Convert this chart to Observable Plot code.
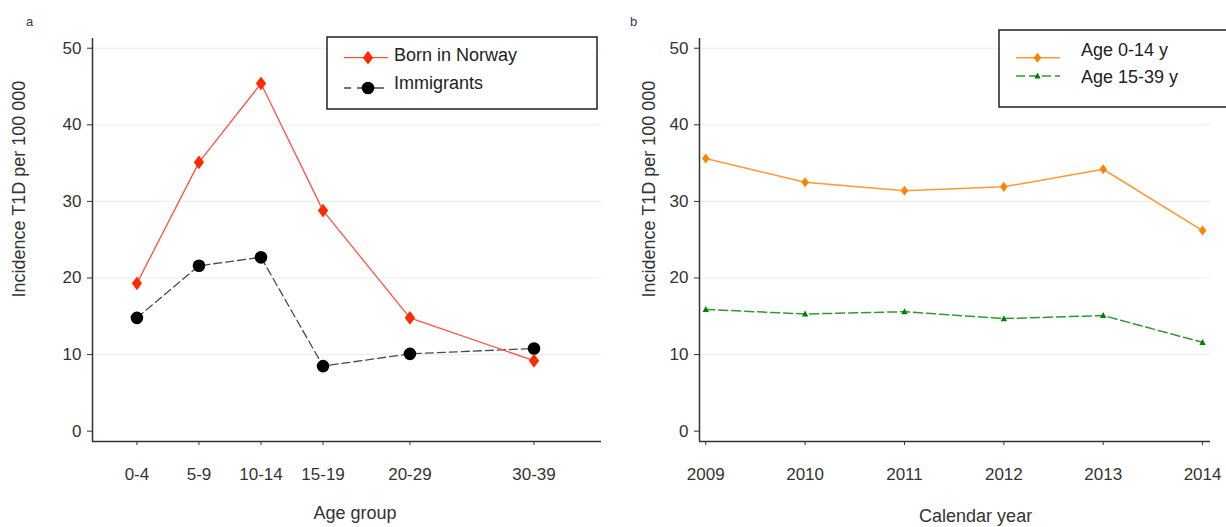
<!DOCTYPE html>
<html><head><meta charset="utf-8">
<script src="https://cdn.jsdelivr.net/npm/d3@7"></script>
<script src="https://cdn.jsdelivr.net/npm/@observablehq/plot@0.6"></script>
<style>
body{margin:0;background:#fff;}
#wrap{display:flex;width:1226px;height:527px;overflow:hidden;}
#wrap svg{flex:none;}
</style></head><body><div id="wrap"></div>
<script>
// ---- data ----
const ageGroups = ["0-4", "5-9", "10-14", "15-19", "20-29", "30-39"];
const ageMid = [2, 7, 12, 17, 24, 34];
const bornNorway = [19.3, 35.1, 45.4, 28.8, 14.8, 9.2];
const immigrants = [14.8, 21.6, 22.7, 8.5, 10.1, 10.8];
const years = [2009, 2010, 2011, 2012, 2013, 2014];
const age0to14 = [35.6, 32.5, 31.4, 31.9, 34.2, 26.2];
const age15to39 = [15.9, 15.3, 15.6, 14.7, 15.1, 11.6];
const yTicks = [0, 10, 20, 30, 40, 50];
const seriesA = ["Born in Norway", "Immigrants"];
const seriesB = ["Age 0-14 y", "Age 15-39 y"];
const yTitle = "Incidence T1D per 100 000";
const xTitleA = "Age group";
const xTitleB = "Calendar year";

// ---- styling ----
const FONT = "'Liberation Sans', Arial, sans-serif";
const C = {red: "#ff2a00", redLine: "#ff5247", black: "#000", grayLine: "#4a4a4a",
           orange: "#ff8200", orangeLine: "#ff9933", green: "#008000", greenLine: "#2f9a2f",
           axis: "#333", grid: "#e8f0f0", text: "#333", letter: "#2b3d6b"};

const tallDiamond = {draw(ctx, size) {
  const r = Math.sqrt(size / Math.PI), h = r * 1.15, w = r * 0.85;
  ctx.moveTo(0, -h); ctx.lineTo(w, 0); ctx.lineTo(0, h); ctx.lineTo(-w, 0); ctx.closePath();
}};
const upTriangle = {draw(ctx, size) {
  const r = Math.sqrt(size / Math.PI);
  ctx.moveTo(0, -r * 1.15); ctx.lineTo(r * 1.05, r * 0.85); ctx.lineTo(-r * 1.05, r * 0.85); ctx.closePath();
}};

const yDom = [-1.345, 51.27];
const xDomA = [-1.58, 39.44];
const xDomB = [2008.937, 2014.08];

function frameMarks(xDom, ticksX, fmt) {
  return [
    Plot.gridY(yTicks.slice(1), {stroke: C.grid, strokeOpacity: 1, strokeWidth: 1.2}),
    Plot.ruleX([xDom[0]], {stroke: C.axis, strokeWidth: 1.5}),
    Plot.ruleY([yDom[0]], {stroke: C.axis, strokeWidth: 1.5}),
    Plot.axisY(yTicks, {tickSize: 5, tickPadding: 6, label: null, fontSize: 17, stroke: C.axis}),
    Plot.axisX(ticksX, {tickSize: 4, tickPadding: 22, label: null, fontSize: 17, stroke: C.axis, tickFormat: fmt})
  ];
}

// ---- panel a ----
const dataA = ageMid.map((x, i) => ({x, born: bornNorway[i], imm: immigrants[i]}));
const plotA = Plot.plot({
  width: 613, height: 527,
  marginLeft: 92, marginRight: 12, marginTop: 38, marginBottom: 86,
  style: {fontFamily: FONT, color: C.text, background: "#fff", overflow: "visible"},
  x: {domain: xDomA},
  y: {domain: yDom},
  marks: [
    ...frameMarks(xDomA, ageMid, d => ageGroups[ageMid.indexOf(d)]),
    Plot.line(dataA, {x: "x", y: "imm", stroke: C.grayLine, strokeWidth: 1.3, strokeDasharray: "8,4"}),
    Plot.line(dataA, {x: "x", y: "born", stroke: C.redLine, strokeWidth: 1.3}),
    Plot.dot(dataA, {x: "x", y: "imm", r: 6.3, fill: C.black, stroke: "none"}),
    Plot.dot(dataA, {x: "x", y: "born", symbol: tallDiamond, r: 6, fill: C.red, stroke: "none"}),
    Plot.text([yTitle], {frameAnchor: "left", rotate: -90, dx: -73, dy: 57.5, fontSize: 18, fill: C.text}),
    Plot.text([xTitleA], {frameAnchor: "bottom", dx: 8, dy: 72, fontSize: 18, fill: C.text, lineAnchor: "middle"}),
    Plot.text(["a"], {frameAnchor: "top-left", dx: -66.5, dy: -16.3, fontSize: 13, fill: C.letter, lineAnchor: "middle"})
  ]
});

// ---- panel b ----
const dataB = years.map((x, i) => ({x, young: age0to14[i], old: age15to39[i]}));
const plotB = Plot.plot({
  width: 613, height: 527,
  marginLeft: 86, marginRight: 16, marginTop: 38, marginBottom: 86,
  style: {fontFamily: FONT, color: C.text, background: "#fff", overflow: "visible"},
  x: {domain: xDomB},
  y: {domain: yDom},
  marks: [
    ...frameMarks(xDomB, years, d => String(d)),
    Plot.line(dataB, {x: "x", y: "old", stroke: C.greenLine, strokeWidth: 1.5, strokeDasharray: "9,4"}),
    Plot.line(dataB, {x: "x", y: "young", stroke: C.orangeLine, strokeWidth: 1.5}),
    Plot.dot(dataB, {x: "x", y: "old", symbol: upTriangle, r: 3, fill: C.green, stroke: "none"}),
    Plot.dot(dataB, {x: "x", y: "young", symbol: tallDiamond, r: 4.4, fill: C.orange, stroke: "none"}),
    Plot.text([yTitle], {frameAnchor: "left", rotate: -90, dx: -50, dy: 57.5, fontSize: 18, fill: C.text}),
    Plot.text([xTitleB], {frameAnchor: "bottom", dx: 20.6, dy: 74.5, fontSize: 18, fill: C.text, lineAnchor: "middle"}),
    Plot.text(["b"], {frameAnchor: "top-left", dx: -69.6, dy: -16.3, fontSize: 13, fill: C.letter, lineAnchor: "middle"})
  ]
});

// ---- legends ----
function legend(svg, box, items) {
  const g = d3.select(svg).append("g").attr("font-family", FONT).attr("text-anchor", "start");
  g.append("rect").attr("x", box.x).attr("y", box.y).attr("width", box.w).attr("height", box.h)
    .attr("fill", "#fff").attr("stroke", "#222").attr("stroke-width", 1.5);
  for (const it of items) {
    g.append("line").attr("x1", it.x0).attr("x2", it.x1).attr("y1", it.ly).attr("y2", it.ly)
      .attr("stroke", it.line).attr("stroke-width", it.lw).attr("stroke-dasharray", it.dash || null);
    g.append("path").attr("transform", `translate(${it.sx},${it.ly})`)
      .attr("d", d3.symbol(it.symbol, it.size)()).attr("fill", it.fill);
    g.append("text").attr("x", it.tx).attr("y", it.ty).attr("dy", "0.35em").attr("text-anchor", "start")
      .attr("font-size", 18).attr("fill", "#222").text(it.label);
  }
}
legend(plotA, {x: 327, y: 37, w: 270, h: 72}, [
  {label: seriesA[0], x0: 344, x1: 388, ly: 57.7, sx: 368, line: C.redLine, lw: 1.3, symbol: tallDiamond, size: Math.PI * 36, fill: C.red, tx: 394, ty: 55},
  {label: seriesA[1], x0: 344, x1: 384, ly: 88, sx: 368, line: C.grayLine, lw: 1.3, dash: "7,6,60", symbol: d3.symbolCircle, size: Math.PI * 40, fill: C.black, tx: 394, ty: 83}
]);
const ox = 613;
legend(plotB, {x: 999 - ox, y: 30, w: 240, h: 77}, [
  {label: seriesB[0], x0: 1016 - ox, x1: 1060 - ox, ly: 57.7, sx: 1037.5 - ox, line: C.orangeLine, lw: 1.5, symbol: tallDiamond, size: Math.PI * 4.4 * 4.4, fill: C.orange, tx: 1081 - ox, ty: 50},
  {label: seriesB[1], x0: 1016 - ox, x1: 1060 - ox, ly: 76, sx: 1037.5 - ox, line: C.greenLine, lw: 1.5, dash: "9,4", symbol: upTriangle, size: Math.PI * 9, fill: C.green, tx: 1081 - ox, ty: 77}
]);

document.getElementById("wrap").append(plotA, plotB);
</script>
</body></html>
